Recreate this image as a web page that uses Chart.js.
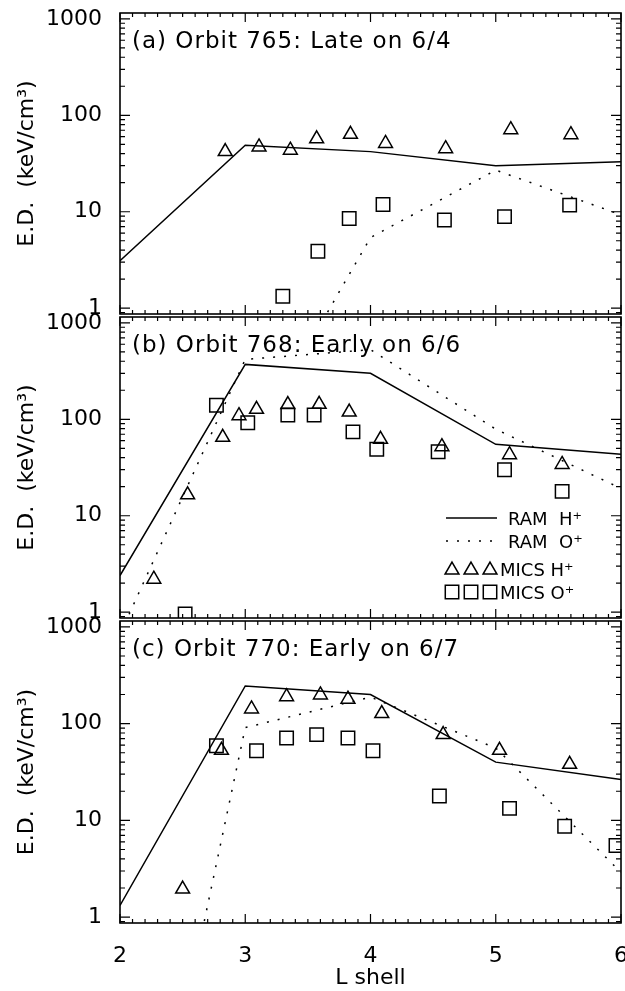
<!DOCTYPE html>
<html>
<head>
<meta charset="utf-8">
<script src="https://cdn.jsdelivr.net/npm/chart.js@4.4.1/dist/chart.umd.min.js"></script>
<style>
  html, body { margin: 0; padding: 0; background: #fff; }
  #wrap { position: relative; width: 625px; height: 991px; overflow: hidden; }
  #wrap canvas { position: absolute; left: 0; top: 0; }
</style>
</head>
<body>
<div id="wrap">
  <canvas id="panelA" width="625" height="991"></canvas>
  <canvas id="panelB" width="625" height="991"></canvas>
  <canvas id="panelC" width="625" height="991"></canvas>
</div>
<script>
// axis values
const xTickLabels = [2, 3, 4, 5, 6];
const yTickLabels = [1, 10, 100, 1000];

// (a) Orbit 765
const ramHa_L = [2, 3, 4, 5, 6];
const ramHa = [3.1, 49, 42, 30, 33];
const ramOa_L = [3, 4, 5, 6];
const ramOa = [0.03, 5.4, 27, 9.3];
const micsHa_L = [2.84, 3.11, 3.36, 3.57, 3.84, 4.12, 4.60, 5.12, 5.60];
const micsHa = [42, 47, 43.5, 57, 63.5, 51, 45, 71, 63];
const micsOa_L = [3.30, 3.58, 3.83, 4.10, 4.59, 5.07, 5.59];
const micsOa = [1.33, 3.9, 8.5, 11.9, 8.2, 8.9, 11.7];

// (b) Orbit 768
const ramHb_L = [2, 3, 4, 5, 6];
const ramHb = [2.4, 371, 300, 55, 43.5];
const ramOb_L = [2, 3, 4, 5, 6];
const ramOb = [0.59, 418, 527, 79, 19.2];
const micsHb_L = [2.27, 2.54, 2.82, 2.95, 3.09, 3.34, 3.59, 3.83, 4.08, 4.57, 5.11, 5.53];
const micsHb = [2.2, 16.5, 65, 109, 127, 142, 143, 119, 62, 52, 43, 34];
const micsOb_L = [2.52, 2.77, 3.02, 3.34, 3.55, 3.86, 4.05, 4.54, 5.07, 5.53];
const micsOb = [0.96, 140, 92, 111, 111, 74, 49, 46, 30, 17.9];

// (c) Orbit 770
const ramHc_L = [2, 3, 4, 5, 6];
const ramHc = [1.32, 245, 200, 40, 26.5];
const ramOc_L = [2, 3, 4, 5, 6];
const ramOc = [0.00007, 91, 188, 56, 2.9];
const micsHc_L = [2.50, 2.81, 3.05, 3.33, 3.60, 3.82, 4.09, 4.58, 5.03, 5.59];
const micsHc = [1.95, 53, 142, 190, 198, 179, 127, 77, 53, 38];
const micsOc_L = [2.77, 3.09, 3.33, 3.57, 3.82, 4.02, 4.55, 5.11, 5.55, 5.96];
const micsOc = [59, 52.5, 71, 77, 71, 52.5, 17.9, 13.3, 8.7, 5.5];

const FONT = '"DejaVu Sans", sans-serif';

function pairs(xs, ys) {
  return xs.map((x, i) => ({ x: x, y: ys[i] }));
}

// frame with inward ticks, panel label, optional legend
const framePlugin = {
  id: 'frame',
  afterDatasetsDraw(chart, args, opts) {
    const { ctx, chartArea: a, scales } = chart;
    const x = scales.x, y = scales.y;
    ctx.save();
    ctx.strokeStyle = '#000';
    ctx.lineWidth = 1.2;
    ctx.beginPath();
    for (let i = 0; i <= 40; i++) {
      const px = x.getPixelForValue(2 + i / 10);
      const len = i % 10 === 0 ? 9 : 4;
      ctx.moveTo(px, a.bottom); ctx.lineTo(px, a.bottom - len);
      ctx.moveTo(px, a.top); ctx.lineTo(px, a.top + len);
    }
    for (let d = -1; d <= 3; d++) {
      for (let m = 1; m <= 9; m++) {
        const v = m * Math.pow(10, d);
        if (v < y.min || v > y.max) continue;
        const py = y.getPixelForValue(v);
        const len = m === 1 ? 10 : 5;
        ctx.moveTo(a.left, py); ctx.lineTo(a.left + len, py);
        ctx.moveTo(a.right, py); ctx.lineTo(a.right - len, py);
      }
    }
    ctx.stroke();
    ctx.lineWidth = 1.6;
    ctx.strokeRect(a.left, a.top, a.right - a.left, a.bottom - a.top);

    ctx.fillStyle = '#000';
    ctx.font = '23px ' + FONT;
    ctx.letterSpacing = '1px';
    ctx.textBaseline = 'alphabetic';
    ctx.fillText(opts.title, a.left + 12, a.top + 35);
    ctx.letterSpacing = '0px';

    if (opts.legend) {
      const lg = opts.legend;
      ctx.font = '18px ' + FONT;
      ctx.lineWidth = 1.5;
      // RAM H+
      ctx.beginPath(); ctx.moveTo(446, 518); ctx.lineTo(497, 518); ctx.stroke();
      ctx.fillText(lg[0], 508, 525);
      // RAM O+
      ctx.setLineDash([2, 9]);
      ctx.beginPath(); ctx.moveTo(446, 541); ctx.lineTo(497, 541); ctx.stroke();
      ctx.setLineDash([]);
      ctx.fillText(lg[1], 508, 548);
      // MICS H+ / O+
      ctx.fillStyle = 'rgba(0,0,0,0)';
      [452, 471, 490].forEach(px => {
        Chart.helpers.drawPoint(ctx, { pointStyle: 'triangle', radius: 8, borderWidth: 1.5, rotation: 0 }, px, 570);
        Chart.helpers.drawPoint(ctx, { pointStyle: 'rect', radius: 9.5, borderWidth: 1.5, rotation: 0 }, px, 592);
      });
      ctx.fillStyle = '#000';
      ctx.fillText(lg[2], 500, 576);
      ctx.fillText(lg[3], 500, 599);
    }
    ctx.restore();
  }
};

function makePanel(id, p) {
  return new Chart(document.getElementById(id), {
    type: 'line',
    data: {
      datasets: [
        { label: 'RAM H+', data: pairs(p.hL, p.h), borderColor: '#000', borderWidth: 1.5,
          pointRadius: 0, tension: 0, clip: 0 },
        { label: 'RAM O+', data: pairs(p.oL, p.o), borderColor: '#000', borderWidth: 1.5,
          borderDash: [2, 9], pointRadius: 0, tension: 0, clip: 0 },
        { label: 'MICS H+', data: pairs(p.mhL, p.mh), showLine: false, pointStyle: 'triangle',
          pointRadius: 8, pointBorderWidth: 1.5, pointBorderColor: '#000',
          pointBackgroundColor: 'rgba(0,0,0,0)', clip: 0 },
        { label: 'MICS O+', data: pairs(p.moL, p.mo), showLine: false, pointStyle: 'rect',
          pointRadius: 9.5, pointBorderWidth: 1.5, pointBorderColor: '#000',
          pointBackgroundColor: 'rgba(0,0,0,0)', clip: 0 }
      ]
    },
    options: {
      responsive: false,
      animation: false,
      events: [],
      layout: { autoPadding: false, padding: { top: p.top, bottom: p.bottom, left: 0, right: 4 } },
      plugins: {
        legend: { display: false },
        tooltip: { enabled: false },
        frame: { title: p.title, legend: p.legend }
      },
      scales: {
        x: {
          type: 'linear', min: 2, max: 6,
          display: p.showX,
          grid: { display: false },
          border: { display: false },
          afterBuildTicks: s => { s.ticks = xTickLabels.map(v => ({ value: v })); },
          afterFit: s => {
            s.height = p.showX ? 68 : 0;
            s.paddingLeft = 0; s.paddingRight = 0;
          },
          ticks: { color: '#000', font: { family: FONT, size: 22 }, padding: 12, maxRotation: 0 },
          title: { display: true, text: 'L shell', color: '#000', font: { family: FONT, size: 22 },
                   padding: { top: 0, bottom: 0 } }
        },
        y: {
          type: 'logarithmic', min: 0.87, max: 1150,
          grid: { display: false },
          border: { display: false },
          afterBuildTicks: s => { s.ticks = yTickLabels.map(v => ({ value: v })); },
          afterFit: s => {
            s.width = 120;
            s.paddingTop = 0; s.paddingBottom = 0;
          },
          ticks: { color: '#000', font: { family: FONT, size: 22 }, padding: 10,
                   autoSkip: false, callback: v => String(v) },
          title: { display: true, text: 'E.D.  (keV/cm³)', color: '#000',
                   font: { family: FONT, size: 22 }, padding: { top: 14, bottom: 0 } }
        }
      }
    },
    plugins: [framePlugin]
  });
}

makePanel('panelA', {
  hL: ramHa_L, h: ramHa, oL: ramOa_L, o: ramOa,
  mhL: micsHa_L, mh: micsHa, moL: micsOa_L, mo: micsOa,
  top: 13, bottom: 991 - 314, showX: false,
  title: '(a) Orbit 765: Late on 6/4'
});
makePanel('panelB', {
  hL: ramHb_L, h: ramHb, oL: ramOb_L, o: ramOb,
  mhL: micsHb_L, mh: micsHb, moL: micsOb_L, mo: micsOb,
  top: 317, bottom: 991 - 618, showX: false,
  title: '(b) Orbit 768: Early on 6/6',
  legend: ['RAM  H⁺', 'RAM  O⁺', 'MICS H⁺', 'MICS O⁺']
});
makePanel('panelC', {
  hL: ramHc_L, h: ramHc, oL: ramOc_L, o: ramOc,
  mhL: micsHc_L, mh: micsHc, moL: micsOc_L, mo: micsOc,
  top: 621, bottom: 0, showX: true,
  title: '(c) Orbit 770: Early on 6/7'
});
</script>
</body>
</html>
